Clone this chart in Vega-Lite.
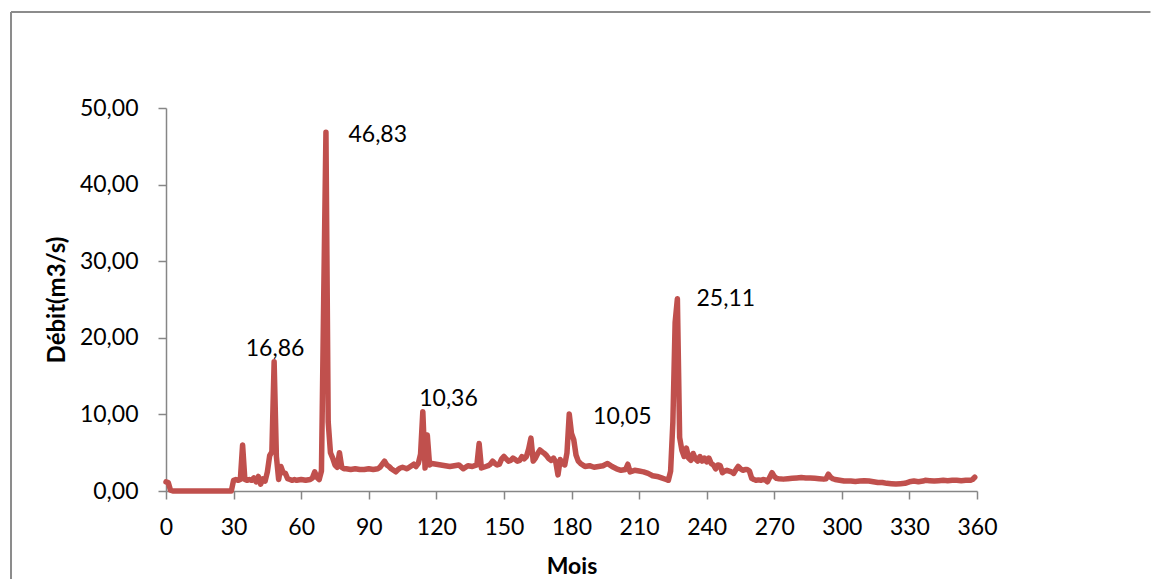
{
  "$schema": "https://vega.github.io/schema/vega-lite/v6.json",
  "width": 811,
  "height": 383,
  "autosize": {"type": "none"},
  "padding": {"left": 166, "top": 108, "right": 174, "bottom": 89},
  "background": "#ffffff",
  "config": {"view": {"stroke": null}, "font": "Lato"},
  "datasets": {
    "frameTop": [{"x0": -68.8, "x1": 437, "y0": 62.53}],
    "frameLeft": [{"x0": -68.8, "y0": 62.53, "y1": -11.5}],
    "flow": [
      {"m":0,"q":1.2},{"m":1,"q":1.1},{"m":2,"q":0.1},{"m":3,"q":0},{"m":5,"q":0},{"m":10,"q":0},{"m":15,"q":0},{"m":20,"q":0},{"m":25,"q":0},{"m":29,"q":0},
      {"m":30,"q":1.4},{"m":31,"q":1.5},{"m":32,"q":1.4},{"m":33,"q":1.5},{"m":34,"q":6.0},{"m":35,"q":1.5},{"m":36,"q":1.4},{"m":37,"q":1.5},{"m":38,"q":1.4},{"m":39,"q":1.7},
      {"m":40,"q":1.2},{"m":41,"q":1.9},{"m":42,"q":0.9},{"m":43,"q":1.6},{"m":44,"q":1.3},{"m":45,"q":2.5},{"m":46,"q":4.6},{"m":47,"q":5.1},{"m":48,"q":16.86},{"m":49,"q":4.5},
      {"m":50,"q":1.5},{"m":51,"q":3.2},{"m":52,"q":2.4},{"m":53,"q":2.3},{"m":54,"q":1.6},{"m":55,"q":1.5},{"m":56,"q":1.4},{"m":57,"q":1.5},{"m":58,"q":1.4},{"m":60,"q":1.5},
      {"m":62,"q":1.4},{"m":64,"q":1.5},{"m":65,"q":1.7},{"m":66,"q":2.5},{"m":67,"q":1.8},{"m":68,"q":1.5},{"m":69,"q":2.6},{"m":70,"q":25},{"m":71,"q":46.83},{"m":72,"q":9},
      {"m":73,"q":5.0},{"m":74,"q":4.3},{"m":75,"q":3.4},{"m":76,"q":3.1},{"m":77,"q":5.0},{"m":78,"q":3.1},{"m":79,"q":2.9},{"m":80,"q":2.9},{"m":82,"q":2.8},{"m":84,"q":2.9},
      {"m":86,"q":2.8},{"m":88,"q":2.8},{"m":90,"q":2.9},{"m":92,"q":2.8},{"m":94,"q":2.9},{"m":95,"q":3.1},{"m":96,"q":3.5},{"m":97,"q":3.9},{"m":98,"q":3.4},{"m":99,"q":3.2},
      {"m":100,"q":2.9},{"m":101,"q":2.7},{"m":102,"q":2.5},{"m":103,"q":2.8},{"m":104,"q":3.0},{"m":105,"q":3.1},{"m":106,"q":3.0},{"m":107,"q":2.9},{"m":108,"q":3.1},{"m":109,"q":3.3},
      {"m":110,"q":3.5},{"m":111,"q":3.2},{"m":112,"q":3.6},{"m":113,"q":4.8},{"m":114,"q":10.36},{"m":115,"q":3.0},{"m":116,"q":7.3},{"m":117,"q":3.4},{"m":118,"q":3.6},{"m":120,"q":3.5},
      {"m":122,"q":3.4},{"m":124,"q":3.3},{"m":126,"q":3.2},{"m":128,"q":3.3},{"m":130,"q":3.4},{"m":132,"q":2.9},{"m":134,"q":3.3},{"m":136,"q":3.2},{"m":137,"q":3.3},{"m":138,"q":3.4},
      {"m":139,"q":6.2},{"m":140,"q":3.0},{"m":141,"q":3.1},{"m":142,"q":3.2},{"m":143,"q":3.3},{"m":144,"q":3.5},{"m":145,"q":3.9},{"m":146,"q":3.6},{"m":147,"q":3.4},{"m":148,"q":3.5},
      {"m":149,"q":4.2},{"m":150,"q":4.5},{"m":151,"q":4.2},{"m":152,"q":3.9},{"m":153,"q":4.0},{"m":154,"q":4.3},{"m":155,"q":4.1},{"m":156,"q":3.9},{"m":157,"q":4.0},{"m":158,"q":4.5},
      {"m":159,"q":4.2},{"m":160,"q":4.5},{"m":161,"q":5.5},{"m":162,"q":6.9},{"m":163,"q":3.9},{"m":164,"q":4.3},{"m":165,"q":4.9},{"m":166,"q":5.35},{"m":167,"q":5.1},{"m":168,"q":4.9},
      {"m":169,"q":4.6},{"m":170,"q":4.2},{"m":171,"q":4.0},{"m":172,"q":4.3},{"m":173,"q":3.8},{"m":174,"q":2.1},{"m":175,"q":4.1},{"m":176,"q":3.6},{"m":177,"q":3.4},{"m":178,"q":5.0},
      {"m":179,"q":10.05},{"m":180,"q":7.5},{"m":181,"q":6.7},{"m":182,"q":4.7},{"m":183,"q":3.9},{"m":184,"q":3.6},{"m":186,"q":3.2},{"m":188,"q":3.3},{"m":190,"q":3.1},{"m":192,"q":3.2},
      {"m":194,"q":3.3},{"m":196,"q":3.6},{"m":198,"q":3.2},{"m":200,"q":2.9},{"m":202,"q":2.7},{"m":204,"q":2.8},{"m":205,"q":3.5},{"m":206,"q":2.5},{"m":208,"q":2.7},{"m":210,"q":2.6},
      {"m":212,"q":2.5},{"m":214,"q":2.3},{"m":216,"q":2.0},{"m":218,"q":1.9},{"m":220,"q":1.7},{"m":222,"q":1.5},{"m":223,"q":1.4},{"m":224,"q":2.6},{"m":225,"q":9},{"m":226,"q":22},
      {"m":227,"q":25.11},{"m":228,"q":7},{"m":229,"q":5.3},{"m":230,"q":4.5},{"m":231,"q":5.6},{"m":232,"q":4.3},{"m":233,"q":4.0},{"m":234,"q":4.9},{"m":235,"q":4.2},{"m":236,"q":3.9},
      {"m":237,"q":4.5},{"m":238,"q":3.9},{"m":239,"q":4.3},{"m":240,"q":3.8},{"m":241,"q":4.3},{"m":242,"q":3.6},{"m":243,"q":3.4},{"m":244,"q":2.9},{"m":245,"q":3.4},{"m":246,"q":3.3},
      {"m":247,"q":2.4},{"m":248,"q":2.6},{"m":249,"q":2.7},{"m":250,"q":2.6},{"m":251,"q":2.5},{"m":252,"q":2.3},{"m":253,"q":2.8},{"m":254,"q":3.2},{"m":255,"q":2.9},{"m":256,"q":2.7},
      {"m":257,"q":2.8},{"m":258,"q":2.8},{"m":259,"q":2.6},{"m":260,"q":1.65},{"m":261,"q":1.5},{"m":262,"q":1.4},{"m":263,"q":1.45},{"m":264,"q":1.4},{"m":265,"q":1.5},{"m":266,"q":1.45},
      {"m":267,"q":1.2},{"m":268,"q":1.8},{"m":269,"q":2.4},{"m":270,"q":1.9},{"m":271,"q":1.65},{"m":272,"q":1.6},{"m":274,"q":1.55},{"m":276,"q":1.6},{"m":278,"q":1.65},{"m":280,"q":1.7},
      {"m":282,"q":1.75},{"m":284,"q":1.7},{"m":286,"q":1.7},{"m":288,"q":1.65},{"m":290,"q":1.6},{"m":292,"q":1.55},{"m":293,"q":1.6},{"m":294,"q":2.2},{"m":295,"q":1.8},{"m":296,"q":1.6},
      {"m":297,"q":1.5},{"m":299,"q":1.4},{"m":301,"q":1.3},{"m":304,"q":1.3},{"m":306,"q":1.25},{"m":308,"q":1.3},{"m":310,"q":1.35},{"m":312,"q":1.3},{"m":314,"q":1.2},{"m":316,"q":1.1},
      {"m":318,"q":1.1},{"m":320,"q":1.0},{"m":322,"q":0.95},{"m":324,"q":0.9},{"m":326,"q":0.95},{"m":328,"q":1.0},{"m":330,"q":1.2},{"m":332,"q":1.3},{"m":334,"q":1.2},{"m":336,"q":1.3},
      {"m":337,"q":1.4},{"m":339,"q":1.35},{"m":341,"q":1.3},{"m":343,"q":1.35},{"m":345,"q":1.4},{"m":347,"q":1.35},{"m":349,"q":1.4},{"m":351,"q":1.4},{"m":353,"q":1.35},{"m":355,"q":1.4},
      {"m":357,"q":1.4},{"m":358,"q":1.5},{"m":359,"q":1.8}
    ],
    "peaks": [
      {"m":48.4,"q":17.6,"label":"16,86"},
      {"m":94,"q":45.5,"label":"46,83"},
      {"m":125.4,"q":11.1,"label":"10,36"},
      {"m":202.6,"q":8.75,"label":"10,05"},
      {"m":248.5,"q":24.2,"label":"25,11"}
    ]
  },
  "layer": [
    {
      "data": {"name": "frameTop"},
      "mark": {"type": "rule", "clip": false, "color": "#8c8c8c", "strokeWidth": 2},
      "encoding": {
        "x": {"field": "x0", "type": "quantitative", "scale": {"domain": [0, 360], "nice": false, "zero": false}},
        "x2": {"field": "x1"},
        "y": {"field": "y0", "type": "quantitative", "scale": {"domain": [0, 50], "nice": false}}
      }
    },
    {
      "data": {"name": "frameLeft"},
      "mark": {"type": "rule", "clip": false, "color": "#8c8c8c", "strokeWidth": 2},
      "encoding": {
        "x": {"field": "x0", "type": "quantitative"},
        "y": {"field": "y0", "type": "quantitative"},
        "y2": {"field": "y1"}
      }
    },
    {
      "data": {"name": "flow"},
      "mark": {"type": "line", "color": "#C0504D", "strokeWidth": 5.5, "strokeCap": "round", "strokeJoin": "round"},
      "encoding": {
        "x": {
          "field": "m", "type": "quantitative",
          "scale": {"domain": [0, 360], "nice": false, "zero": false},
          "axis": {
            "title": "Mois", "values": [0,30,60,90,120,150,180,210,240,270,300,330,360],
            "labelOverlap": false, "labelFlush": false,
            "grid": false, "domainColor": "#868686", "domainWidth": 1.5, "tickColor": "#868686", "tickWidth": 1.5, "tickSize": 8,
            "labelFont": "Lato", "labelFontSize": 23, "labelColor": "#000000", "labelPadding": 17,
            "titleFont": "Lato", "titleFontSize": 23, "titleFontWeight": "bold", "titleColor": "#000000", "titlePadding": 16
          }
        },
        "y": {
          "field": "q", "type": "quantitative",
          "scale": {"domain": [0, 50], "nice": false},
          "axis": {
            "title": "Débit(m3/s)", "values": [0,5,10,15,20,25,30,35,40,45,50],
            "labelOverlap": false, "labelFlush": false,
            "labelExpr": "replace(format(datum.value, '.2f'), '.', ',')",
            "grid": false, "domainColor": "#868686", "domainWidth": 1.5, "tickColor": "#868686", "tickWidth": 1.5, "tickSize": 8,
            "labelFont": "Lato", "labelFontSize": 23, "labelColor": "#000000", "labelPadding": 20,
            "titleFont": "Lato", "titleFontSize": 24, "titleFontWeight": "bold", "titleColor": "#000000", "titlePadding": 10
          }
        }
      }
    },
    {
      "data": {"name": "peaks"},
      "mark": {"type": "text", "font": "Lato", "fontSize": 23, "color": "#000000", "align": "center", "baseline": "alphabetic"},
      "encoding": {
        "x": {"field": "m", "type": "quantitative"},
        "y": {"field": "q", "type": "quantitative"},
        "text": {"field": "label"}
      }
    }
  ]
}
